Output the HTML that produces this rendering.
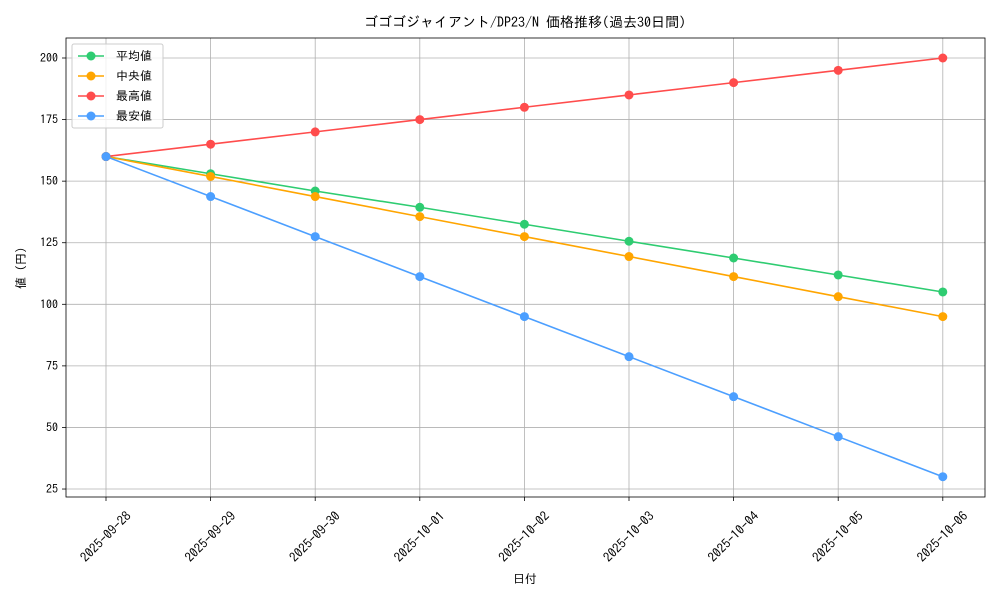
<!DOCTYPE html>
<html><head><meta charset="utf-8"><style>
body{margin:0;background:#fff;}
text{font-family:"IPAGothic","Noto Sans CJK JP",monospace;fill:#000;}
</style></head><body>
<svg width="1000" height="600" xmlns="http://www.w3.org/2000/svg">
<rect width="1000" height="600" fill="#fff"/>
<g id="grid" stroke="#b0b0b0" stroke-width="0.8"></g>
<g id="series"></g>
<rect x="66" y="38" width="919" height="459" fill="none" stroke="#000" stroke-width="0.8"/>
<g id="ticks" font-size="12"></g>
<text x="525" y="27" font-size="14" text-anchor="middle">ゴゴゴジャイアント/DP23/N 価格推移(過去30日間)</text>
<text x="525" y="583" font-size="12" text-anchor="middle">日付</text>
<text transform="translate(25,268) rotate(-90)" font-size="12" text-anchor="middle">値 (円)</text>
<g>
<rect x="72" y="44" width="91" height="84" fill="#fff" fill-opacity="0.8" stroke="#ccc" rx="2"/>
</g>
<g id="legend" font-size="12"></g>
</svg>
<script>
const ns="http://www.w3.org/2000/svg";
function el(p,t,a,txt){const e=document.createElementNS(ns,t);for(const k in a)e.setAttribute(k,a[k]);if(txt)e.textContent=txt;document.getElementById(p).appendChild(e);return e;}
const X=i=>106+i*104.6, Y=v=>58+(200-v)*2.463;
const dates=["2025-09-28","2025-09-29","2025-09-30","2025-10-01","2025-10-02","2025-10-03","2025-10-04","2025-10-05","2025-10-06"];
for(let i=0;i<9;i++){el("grid","line",{x1:X(i),x2:X(i),y1:38,y2:497});
el("ticks","line",{x1:X(i),x2:X(i),y1:497,y2:501,stroke:"#000","stroke-width":0.8});
el("ticks","text",{transform:`translate(${X(i)},537) rotate(-45)`,"text-anchor":"middle",dy:4,"font-size":13},dates[i]);}
for(let v=25;v<=200;v+=25){el("grid","line",{x1:66,x2:985,y1:Y(v),y2:Y(v)});
el("ticks","line",{x1:62,x2:66,y1:Y(v),y2:Y(v),stroke:"#000","stroke-width":0.8});
el("ticks","text",{x:58,y:Y(v)+4,"text-anchor":"end"},v);}
const S=[["平均値","#2ecc71",[160,153,146,139.4,132.5,125.6,118.8,111.9,105]],
["中央値","#ffa500",[160,151.9,143.75,135.6,127.5,119.4,111.25,103.1,95]],
["最高値","#ff4c4c",[160,165,170,175,180,185,190,195,200]],
["最安値","#4c9fff",[160,143.75,127.5,111.25,95,78.75,62.5,46.25,30]]];
S.forEach((s,k)=>{el("series","polyline",{points:s[2].map((v,i)=>X(i)+","+Y(v)).join(" "),fill:"none",stroke:s[1],"stroke-width":1.6});
s[2].forEach((v,i)=>el("series","circle",{cx:X(i),cy:Y(v),r:4.5,fill:s[1]}));
const ly=56+k*20;el("legend","line",{x1:78,x2:104,y1:ly,y2:ly,stroke:s[1],"stroke-width":1.6});
el("legend","circle",{cx:91,cy:ly,r:4.5,fill:s[1]});
el("legend","text",{x:116,y:ly+4},s[0]);});
</script>
</body></html>
